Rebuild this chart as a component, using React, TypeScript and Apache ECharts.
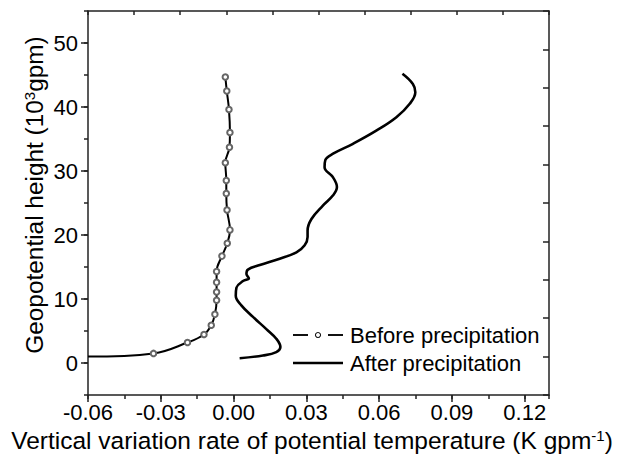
import React, { useEffect, useRef } from "react";
import * as echarts from "echarts";

const xMajorTicks = [-0.06, -0.03, 0.0, 0.03, 0.06, 0.09, 0.12];
const yMajorTicks = [0, 10, 20, 30, 40, 50];

const beforeX = [-0.06, -0.033, -0.019, -0.0122, -0.0092, -0.0077, -0.007, -0.007, -0.007, -0.007, -0.0048, -0.0026, -0.0015, -0.0027, -0.003, -0.003, -0.0034, -0.0017, -0.0015, -0.0019, -0.0028, -0.0034];
const beforeY = [1.0, 1.5, 3.2, 4.45, 5.9, 7.6, 9.8, 11.1, 12.6, 14.3, 16.7, 18.7, 20.8, 23.9, 26.5, 28.5, 31.3, 33.7, 36.0, 39.6, 42.5, 44.7];

const afterX = [0.0025, 0.0121, 0.0176, 0.0193, 0.0176, 0.0135, 0.008, 0.0032, 0.0009, 0.0012, 0.0039, 0.0063, 0.0053, 0.0059, 0.0108, 0.019, 0.0259, 0.0293, 0.0305, 0.0305, 0.0321, 0.0368, 0.041, 0.0426, 0.041, 0.0375, 0.0378, 0.041, 0.0492, 0.0588, 0.0671, 0.0726, 0.0749, 0.0739, 0.0696];
const afterY = [0.75, 1.17, 1.7, 2.5, 3.8, 5.3, 7.2, 9.0, 10.5, 11.8, 12.8, 13.25, 13.9, 14.6, 15.3, 16.3, 17.3, 18.4, 19.7, 20.7, 22.5, 24.6, 26.2, 27.5, 29.0, 30.6, 31.7, 32.7, 34.25, 36.3, 38.4, 40.5, 42.3, 43.6, 45.2];

const seriesNames = ["Before precipitation", "After precipitation"];
const xTitle = "Vertical variation rate of potential temperature (K gpm{sup|-1})";
const yTitle = "Geopotential height (10{sup|3}gpm)";

const FONT = "'Liberation Sans', Arial, sans-serif";
const AX = "#222";

const ICON_BEFORE =
  "path://M0,3.2H15V5H0Z M35,3.2H50V5H35Z M25,1 A3.1,3.1 0 1,1 24.99,1 Z M25,2.1 A2,2 0 1,0 25.01,2.1 Z";
const ICON_AFTER = "path://M0,0H50V2.4H0Z";

export default function App() {
  const ref = useRef<HTMLDivElement>(null);
  useEffect(() => {
    if (!ref.current) return;
    const chart = echarts.init(ref.current, undefined, { renderer: "svg" });
    const beforeData = beforeX.map((x, i) =>
      i === 0 ? { value: [x, beforeY[i]], symbol: "none" } : { value: [x, beforeY[i]] }
    );
    const afterData = afterX.map((x, i) => [x, afterY[i]]);
    const noLabel = { show: false };
    chart.setOption({
      animation: false,
      grid: { left: 88, right: 75, top: 11, bottom: 64 },
      xAxis: [
        {
          type: "value", position: "bottom", min: -0.06, max: 0.13,
          axisLine: { show: true, onZero: false, lineStyle: { color: AX, width: 1.5 } },
          axisTick: { show: true, customValues: xMajorTicks, length: 7, lineStyle: { color: AX, width: 1.5 } },
          axisLabel: {
            customValues: xMajorTicks, margin: 6, fontSize: 22, color: "#000", fontFamily: FONT,
            formatter: (v: number) => v.toFixed(2),
          },
          splitLine: { show: false },
        },
        {
          type: "value", position: "bottom", min: -0.06, max: 0.13, interval: 0.015,
          axisLine: { show: false, onZero: false },
          axisTick: { show: true, length: 4, lineStyle: { color: AX, width: 1.5 } },
          axisLabel: noLabel, splitLine: { show: false },
        },
        {
          type: "value", position: "top", min: 0, max: 10, interval: 1,
          axisLine: { show: true, onZero: false, lineStyle: { color: AX, width: 1.5 } },
          axisTick: { show: true, inside: true, length: 4, lineStyle: { color: AX, width: 1.5 } },
          axisLabel: noLabel, splitLine: { show: false },
        },
      ],
      yAxis: [
        {
          type: "value", position: "left", min: -5, max: 55,
          axisLine: { show: true, onZero: false, lineStyle: { color: AX, width: 1.5 } },
          axisTick: { show: true, customValues: yMajorTicks, length: 7, lineStyle: { color: AX, width: 1.5 } },
          axisLabel: { customValues: yMajorTicks, margin: 10, fontSize: 22, color: "#000", fontFamily: FONT },
          splitLine: { show: false },
        },
        {
          type: "value", position: "left", min: -5, max: 55, interval: 5,
          axisLine: { show: false, onZero: false },
          axisTick: { show: true, length: 4, lineStyle: { color: AX, width: 1.5 } },
          axisLabel: noLabel, splitLine: { show: false },
        },
        {
          type: "value", position: "right", min: 0, max: 10, interval: 1,
          axisLine: { show: true, onZero: false, lineStyle: { color: AX, width: 1.5 } },
          axisTick: { show: true, inside: true, length: 6, lineStyle: { color: AX, width: 1.5 } },
          axisLabel: noLabel, splitLine: { show: false },
        },
      ],
      legend: {
        data: [
          { name: seriesNames[0], icon: ICON_BEFORE, itemStyle: { color: "#111" } },
          { name: seriesNames[1], icon: ICON_AFTER, itemStyle: { color: "#000" } },
        ],
        orient: "vertical",
        left: 293,
        top: 324,
        padding: 0,
        itemWidth: 50,
        itemHeight: 8,
        itemGap: 6,
        textStyle: { fontSize: 22, color: "#000", fontFamily: FONT, padding: [0, 0, 0, 2] },
      },
      series: [
        {
          name: seriesNames[0], type: "line", xAxisIndex: 0, yAxisIndex: 0,
          data: beforeData, smooth: 0.4,
          symbol: "emptyCircle", symbolSize: 5.5,
          itemStyle: { color: "#666", borderWidth: 1 },
          lineStyle: { color: "#000", width: 2 },
        },
        {
          name: seriesNames[1], type: "line", xAxisIndex: 0, yAxisIndex: 0,
          data: afterData, smooth: 0.4, symbol: "none",
          itemStyle: { color: "#000" },
          lineStyle: { color: "#000", width: 2.6 },
        },
      ],
      graphic: [
        {
          type: "text", x: 312, y: 440,
          style: {
            text: xTitle, fontSize: 24.5, fontFamily: FONT, fill: "#000",
            align: "center", verticalAlign: "middle",
            rich: { sup: { fontSize: 15, verticalAlign: "top", fontFamily: FONT, fill: "#000" } },
          },
        },
        {
          type: "text", x: 34, y: 195, rotation: Math.PI / 2,
          style: {
            text: yTitle, fontSize: 24.4, fontFamily: FONT, fill: "#000",
            align: "center", verticalAlign: "middle",
            rich: { sup: { fontSize: 15, verticalAlign: "top", fontFamily: FONT, fill: "#000" } },
          },
        },
      ],
    });
    return () => chart.dispose();
  }, []);
  return (
    <div
      ref={ref}
      style={{ position: "absolute", left: 0, top: 0, width: 624, height: 459, background: "#fff" }}
    />
  );
}
